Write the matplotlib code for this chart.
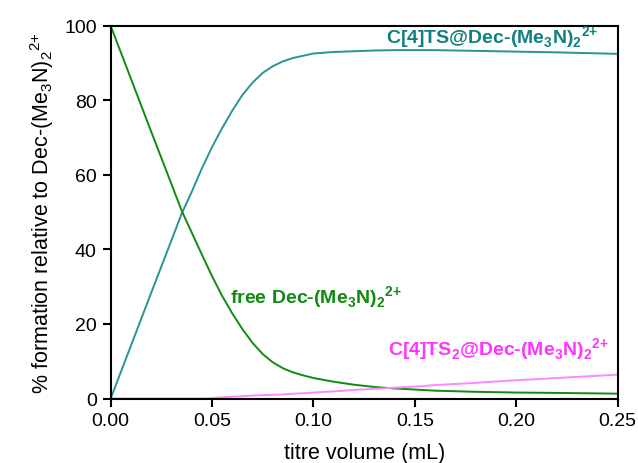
import matplotlib
matplotlib.use("Agg")
import matplotlib.pyplot as plt

plt.rcParams['font.family'] = ['Liberation Sans', 'DejaVu Sans']
plt.rcParams['mathtext.fontset'] = 'custom'
plt.rcParams['mathtext.rm'] = 'Liberation Sans'
plt.rcParams['mathtext.bf'] = 'Liberation Sans:bold'

# titre volume (mL)
volume = [0.0, 0.01, 0.02, 0.03, 0.035, 0.04, 0.045, 0.05, 0.055, 0.06,
          0.065, 0.07, 0.075, 0.08, 0.085, 0.09, 0.095, 0.10, 0.11, 0.12,
          0.13, 0.14, 0.15, 0.16, 0.18, 0.20, 0.22, 0.25]

# % of each species
host_guest = [0.0, 14.2, 28.4, 42.5, 49.6, 55.5, 61.8, 67.5, 72.6, 77.3,
              81.5, 84.8, 87.4, 89.2, 90.5, 91.4, 92.0, 92.6, 93.0, 93.2,
              93.4, 93.5, 93.5, 93.5, 93.3, 93.1, 92.9, 92.5]
free_guest = [100.0, 85.8, 71.6, 57.5, 50.4, 44.5, 38.6, 32.8, 27.5, 22.8,
              18.6, 14.9, 11.9, 9.7, 8.1, 7.0, 6.2, 5.5, 4.5, 3.7,
              3.1, 2.7, 2.4, 2.1, 1.8, 1.6, 1.5, 1.3]
host2_guest = [0.0, 0.0, 0.0, 0.0, 0.0, 0.0, 0.0, 0.1, 0.3, 0.5,
               0.6, 0.8, 0.9, 1.0, 1.1, 1.3, 1.4, 1.6, 1.9, 2.3,
               2.6, 2.9, 3.2, 3.6, 4.2, 4.9, 5.5, 6.4]

TEAL = '#2a9494'
TEAL_TXT = '#128080'
GREEN = '#118a11'
PINK = '#ff88ff'
MAGENTA = '#ff33ff'

fig = plt.figure(figsize=(6.38, 4.64), dpi=100)
ax = fig.add_axes([0.1735, 0.139, 0.7945, 0.803])

ax.plot(volume, host_guest, color=TEAL, lw=1.4)
ax.plot(volume, free_guest, color=GREEN, lw=1.4)
ax.plot(volume, host2_guest, color=PINK, lw=1.4)

# subscript 2 then a raised 2+ after it, not stacked
ion = r'(Me$_\mathbf{3}$N)$_\mathbf{2}$$^\mathbf{2{+}}$'
ax.text(0.2405, 97, 'C[4]TS@Dec-' + ion, color=TEAL_TXT,
        fontsize=14, fontweight='bold', ha='right', va='center')
ax.text(0.059, 27.3, 'free Dec-' + ion, color=GREEN,
        fontsize=14, fontweight='bold', ha='left', va='center')
ax.text(0.137, 13.3, r'C[4]TS$_\mathbf{2}$@Dec-' + ion,
        color=MAGENTA, fontsize=14, fontweight='bold', ha='left', va='center')

ax.set_xlim(0, 0.25)
ax.set_ylim(0, 100)
ax.set_xticks([0, 0.05, 0.10, 0.15, 0.20, 0.25])
ax.set_xticklabels(['0.00', '0.05', '0.10', '0.15', '0.20', '0.25'])
ax.set_yticks([0, 20, 40, 60, 80, 100])

for s in ax.spines.values():
    s.set_linewidth(1.5)
ax.tick_params(direction='out', length=6, width=1.5, labelsize=14, pad=4)

ax.set_xlabel('titre volume (mL)', fontsize=15.5, labelpad=9)
ax.set_ylabel(r'% formation relative to Dec-(Me$_3$N)$_2$$^{2{+}}$', fontsize=15.5, labelpad=6)

fig.savefig('out.png', dpi=100)
